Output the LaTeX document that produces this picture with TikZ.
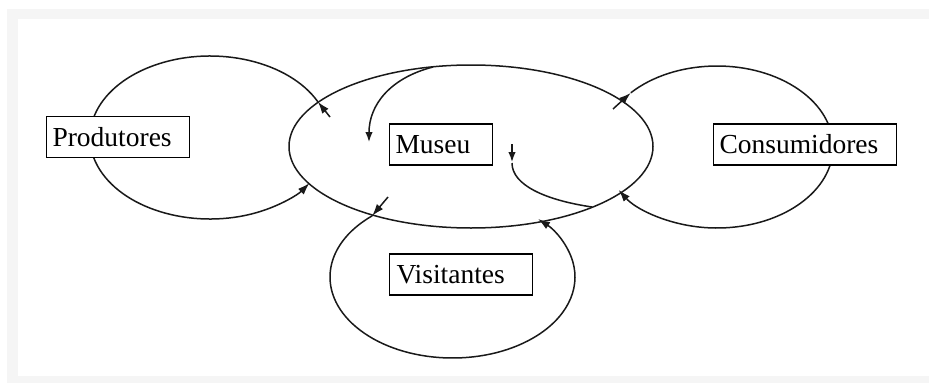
\documentclass[tikz,border=0pt]{standalone}
\usepackage{fontspec}
\setmainfont{Liberation Serif}
\usetikzlibrary{arrows.meta}
\begin{document}
\begin{tikzpicture}[x=1pt,y=1pt,
  line/.style={line width=1.5pt, black!90},
  arr/.style={line, -{Latex[length=12pt,width=8pt]}},
  sarr/.style={line, -{Latex[length=10pt,width=7.5pt]}},
  lbl/.style={draw, line width=1.3pt, fill=white, align=left, inner xsep=6pt, inner ysep=0pt, minimum height=41pt, font=\fontsize{27.5}{30}\selectfont},
]
\useasboundingbox (0,0) rectangle (929,-383);
\fill[gray!8] (7,-9) rectangle (929,-383);
\fill[white] (18,-19) rectangle (929,-376);

% Museu ellipse
\coordinate (m0) at (471,-146.5);
\draw[line] (m0) ellipse [x radius=182, y radius=81.5];

% Produtores loop
\coordinate (pc) at (210,-137.5);
\coordinate (p1) at (330,-117);
\path (pc) ++(26:120 and 81.5) coordinate (p2);
\draw[arr] (p1) -- (p2);
\draw[arr] (p2) arc[start angle=26, end angle=326, x radius=120, y radius=81.5];

% Consumidores loop
\coordinate (cc) at (717,-147);
\coordinate (c1) at (613,-109);
\path (cc) ++(138:116 and 81) coordinate (c2);
\draw[arr] (c1) -- (c2);
\draw[arr] (c2) arc[start angle=138, end angle=-148, x radius=116, y radius=81];

% Visitantes loop
\coordinate (vc) at (452.5,-277);
\coordinate (v1) at (388,-197);
\path (vc) ++(131:122.5 and 81) coordinate (v2);
\draw[arr] (v1) -- (v2);
\draw[arr] (v2) arc[start angle=131, end angle=405.7, x radius=122.5, y radius=81];

% inner arrows
\coordinate (i1) at (433,-67);
\coordinate (i2) at (369,-142);
\draw[sarr] (i1) .. controls (390,-78) and (369,-105) .. (i2);
\coordinate (j1) at (592,-207);
\coordinate (j2) at (512,-163);
\draw[line] (j1) .. controls (545,-200) and (512,-185) .. (j2);
\coordinate (j3) at (512,-144);
\coordinate (j4) at (512,-162);
\draw[sarr] (j3) -- (j4);

% labels
\node[lbl, text width=131pt] (prod) at (118,-137) {Produtores};
\node[lbl, text width=91pt] (museu) at (441,-144.5) {Museu};
\node[lbl, text width=171pt] (cons) at (805,-144.5) {Consumidores};
\node[lbl, text width=129pt, inner xsep=7pt] (visit) at (461,-274.5) {Visitantes};
\end{tikzpicture}
\end{document}
